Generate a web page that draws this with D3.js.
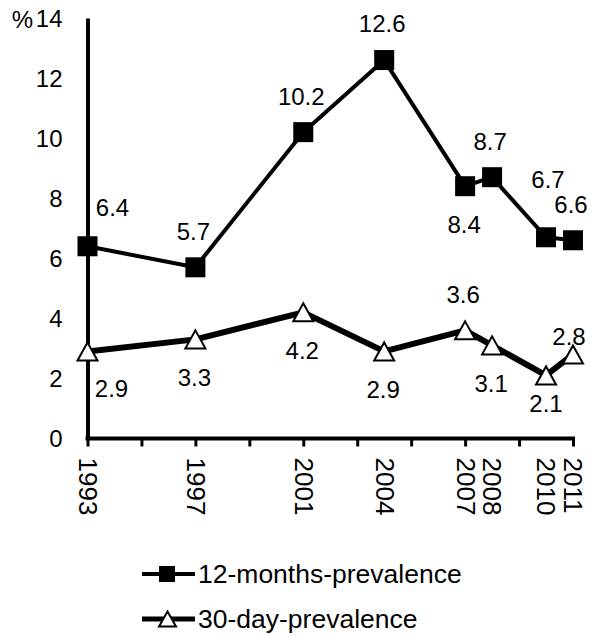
<!DOCTYPE html>
<html>
<head>
<meta charset="utf-8">
<script src="https://cdn.jsdelivr.net/npm/d3@7"></script>
<style>
  body { margin: 0; background: #fff; }
  text { font-family: "Liberation Sans", Arial, sans-serif; fill: #000; }
</style>
</head>
<body>
<div id="chart"></div>
<script>
const years = [1993, 1997, 2001, 2004, 2007, 2008, 2010, 2011];
const prev12 = [6.4, 5.7, 10.2, 12.6, 8.4, 8.7, 6.7, 6.6];
const prev30 = [2.9, 3.3, 4.2, 2.9, 3.6, 3.1, 2.1, 2.8];
const yTicks = [0, 2, 4, 6, 8, 10, 12, 14];
const xTickYears = d3.range(1993, 2012, 2);
// where each value label sits relative to its point
const pos12 = ["aboveRight", "above", "above", "above", "below", "above", "aboveHigh", "above"];
const pos30 = ["belowRight", "below", "below", "below", "above", "below", "belowNear", "aboveNear"];
const seriesNames = ["12-months-prevalence", "30-day-prevalence"];

const width = 591;
const height = 637;
const fs = 24;

const offsets = {
  above: [-2, -36],
  below: [-1, 38],
  aboveRight: [25, -39],
  belowRight: [24, 37],
  aboveHigh: [2, -58],
  belowNear: [0, 28],
  aboveNear: [-4, -18]
};

const svg = d3.select("#chart")
  .append("svg")
  .attr("width", width)
  .attr("height", height);

const x = d3.scaleLinear()
  .domain([1993, 2011])
  .range([87.5, 573]);

const y = d3.scaleLinear()
  .domain([0, 14])
  .range([438.5, 18]);

// y axis
const yAxis = svg.append("g")
  .attr("transform", `translate(${x(1993)},0)`)
  .call(d3.axisLeft(y).tickValues(yTicks).tickSize(0).tickPadding(25));
yAxis.select(".domain").attr("stroke", "#000").attr("stroke-width", 4);
yAxis.selectAll("text").style("font-size", fs + "px").attr("dy", "0.35em");

svg.append("text")
  .attr("x", 33)
  .attr("y", y(14))
  .attr("dy", "0.4em")
  .attr("text-anchor", "end")
  .style("font-size", fs + "px")
  .text("%");

// x axis ticks (every 2 years)
const xAxis = svg.append("g")
  .attr("transform", `translate(0,${y(0)})`)
  .call(d3.axisBottom(x).tickValues(xTickYears).tickSizeInner(8).tickSizeOuter(0).tickFormat(""));
xAxis.select(".domain").attr("stroke", "#000").attr("stroke-width", 4)
  .attr("d", `M${x(1993) - 2},0H${x(2011) + 2}`);
xAxis.selectAll(".tick line").attr("stroke", "#000").attr("stroke-width", 3);

// year labels, rotated
const xLabels = svg.append("g")
  .attr("transform", `translate(0,${y(0)})`)
  .call(d3.axisBottom(x).tickValues(years).tickSize(0).tickFormat(d3.format("d")));
xLabels.select(".domain").remove();
xLabels.selectAll("text")
  .style("font-size", "26px")
  .attr("text-anchor", "start")
  .attr("y", 0)
  .attr("dy", "0.35em")
  .attr("transform", "translate(0,19) rotate(90)");

const line = d3.line()
  .x((d, i) => x(years[i]))
  .y(d => y(d));

// 12-months series
svg.append("path")
  .datum(prev12)
  .attr("fill", "none")
  .attr("stroke", "#000")
  .attr("stroke-width", 4)
  .attr("stroke-linejoin", "round")
  .attr("d", line);

// 30-day series
svg.append("path")
  .datum(prev30)
  .attr("fill", "none")
  .attr("stroke", "#000")
  .attr("stroke-width", 6)
  .attr("stroke-linejoin", "round")
  .attr("d", line);

const sq = 20;
svg.append("g")
  .selectAll("rect")
  .data(prev12)
  .join("rect")
  .attr("x", (d, i) => x(years[i]) - sq / 2)
  .attr("y", d => y(d) - sq / 2)
  .attr("width", sq)
  .attr("height", sq)
  .attr("fill", "#000");

const tri = (cx, cy, w, h) => `M${cx},${cy - h / 2}L${cx + w / 2},${cy + h / 2}L${cx - w / 2},${cy + h / 2}Z`;

svg.append("g")
  .selectAll("path")
  .data(prev30)
  .join("path")
  .attr("d", (d, i) => tri(x(years[i]), y(d), 20, 18))
  .attr("fill", "#fff")
  .attr("stroke", "#000")
  .attr("stroke-width", 2)
  .attr("stroke-linejoin", "miter");

// value labels
function addLabels(vals, places) {
  svg.append("g")
    .selectAll("text")
    .data(vals)
    .join("text")
    .attr("x", (d, i) => x(years[i]) + offsets[places[i]][0])
    .attr("y", (d, i) => y(d) + offsets[places[i]][1])
    .attr("dy", "0.35em")
    .attr("text-anchor", "middle")
    .style("font-size", fs + "px")
    .text(d => d3.format(".1f")(d));
}
addLabels(prev12, pos12);
addLabels(prev30, pos30);

// legend
const legend = svg.append("g");
const legY = [574, 619];
seriesNames.forEach((name, i) => {
  const g = legend.append("g").attr("transform", `translate(0,${legY[i]})`);
  g.append("line")
    .attr("x1", 142).attr("x2", 195)
    .attr("stroke", "#000")
    .attr("stroke-width", i === 0 ? 4 : 5);
  if (i === 0) {
    g.append("rect")
      .attr("x", 159).attr("y", -8)
      .attr("width", 16).attr("height", 16)
      .attr("fill", "#000");
  } else {
    g.append("path")
      .attr("d", tri(167.5, 0, 17, 15))
      .attr("fill", "#fff")
      .attr("stroke", "#000")
      .attr("stroke-width", 2);
  }
  g.append("text")
    .attr("x", 198)
    .attr("dy", "0.35em")
    .style("font-size", "26.5px")
    .text(name);
});
</script>
</body>
</html>
